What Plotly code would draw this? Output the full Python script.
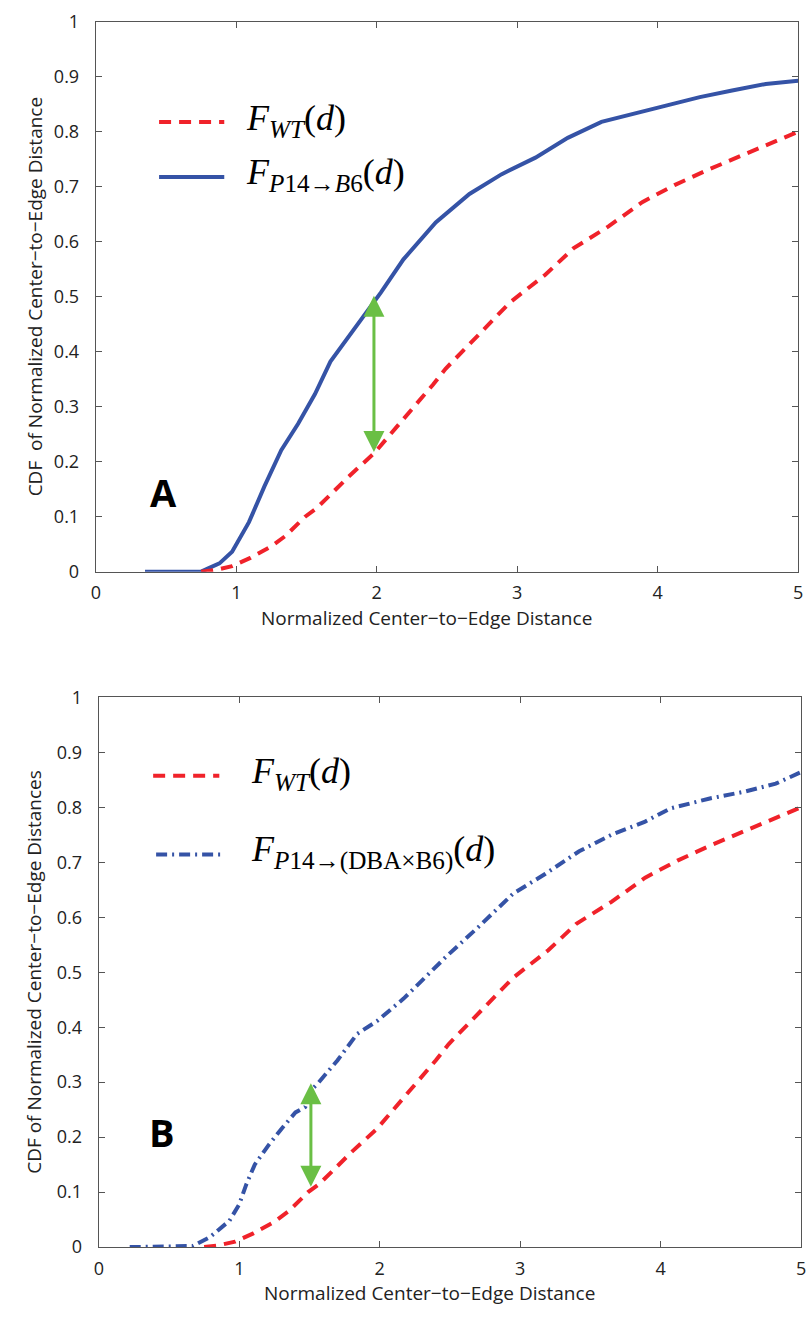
import plotly.graph_objects as go

# ---------------- data ----------------
wt_x = [0.75, 0.85, 0.97, 1.10, 1.25, 1.35, 1.49, 1.57, 1.67, 1.80, 1.98, 2.10, 2.26, 2.40,
        2.49, 2.73, 2.95, 3.20, 3.40, 3.65, 3.89, 4.12, 4.35, 4.59, 4.82, 5.00]
wt_y = [0.0, 0.003, 0.010, 0.025, 0.046, 0.065, 0.100, 0.115, 0.140, 0.173, 0.215, 0.250, 0.298, 0.340,
        0.369, 0.432, 0.490, 0.540, 0.588, 0.628, 0.672, 0.703, 0.730, 0.756, 0.780, 0.800]

b6_x = [0.35, 0.75, 0.80, 0.88, 0.97, 1.09, 1.20, 1.32, 1.44, 1.56, 1.67, 1.79, 1.91, 2.03,
        2.19, 2.42, 2.66, 2.89, 3.13, 3.36, 3.60, 3.83, 4.06, 4.30, 4.53, 4.77, 5.00]
b6_y = [0.0, 0.0, 0.006, 0.015, 0.036, 0.090, 0.155, 0.221, 0.269, 0.323, 0.382, 0.424, 0.466, 0.508,
        0.568, 0.635, 0.687, 0.723, 0.753, 0.789, 0.818, 0.833, 0.848, 0.863, 0.875, 0.887, 0.893]

dba_x = [0.22, 0.67, 0.79, 0.93, 1.00, 1.05, 1.11, 1.21, 1.30, 1.40, 1.47, 1.51, 1.56, 1.70,
         1.84, 1.98, 2.17, 2.24, 2.48, 2.71, 2.95, 3.18, 3.42, 3.65, 3.89, 4.07, 4.35, 4.59, 4.82, 5.00]
dba_y = [0.0, 0.002, 0.018, 0.048, 0.078, 0.114, 0.150, 0.186, 0.215, 0.245, 0.255, 0.285, 0.298, 0.340,
         0.388, 0.411, 0.452, 0.470, 0.530, 0.584, 0.643, 0.679, 0.720, 0.750, 0.774, 0.798, 0.816, 0.828, 0.843, 0.864]

x_ticks = [0, 1, 2, 3, 4, 5]
y_ticks = [0, 0.1, 0.2, 0.3, 0.4, 0.5, 0.6, 0.7, 0.8, 0.9, 1]
y_tick_text = ["0", "0.1", "0.2", "0.3", "0.4", "0.5", "0.6", "0.7", "0.8", "0.9", "1"]

# arrows: (x, y_low, y_high)
arrow_a = (1.98, 0.215, 0.502)
arrow_b = (1.51, 0.107, 0.298)

# ---------------- styling ----------------
RED = "#f0222a"
BLUE = "#3553a6"
GREEN = "#6abf45"
AXC = "#555555"
TXT = "#222222"
SANS = "Open Sans, DejaVu Sans, sans-serif"
SERIF = "Liberation Serif, Times New Roman, serif"
W, H = 811, 1318

DASH = "12px,8px"
DASHDOT = "11px,5px,2px,5px"

fig = go.Figure()
fig.add_trace(go.Scatter(x=b6_x, y=b6_y, mode="lines", xaxis="x", yaxis="y",
                         line=dict(color=BLUE, width=4), showlegend=False))
fig.add_trace(go.Scatter(x=wt_x, y=wt_y, mode="lines", xaxis="x", yaxis="y",
                         line=dict(color=RED, width=4, dash=DASH), showlegend=False))
fig.add_trace(go.Scatter(x=dba_x, y=dba_y, mode="lines", xaxis="x2", yaxis="y2",
                         line=dict(color=BLUE, width=4, dash=DASHDOT), showlegend=False))
fig.add_trace(go.Scatter(x=wt_x, y=wt_y, mode="lines", xaxis="x2", yaxis="y2",
                         line=dict(color=RED, width=4, dash=DASH), showlegend=False))


def px_x(p):
    return p / W


def px_y(p):
    return 1 - p / H


axis_common = dict(showline=True, linecolor=AXC, linewidth=1.2, mirror="ticks", ticks="inside",
                   ticklen=6, tickcolor=AXC, tickwidth=1.2, showgrid=False, zeroline=False,
                   tickfont=dict(family=SANS, size=18, color=TXT))

fig.update_layout(
    width=W, height=H, margin=dict(l=0, r=0, t=0, b=0),
    paper_bgcolor="white", plot_bgcolor="white", showlegend=False,
    xaxis=dict(domain=[px_x(92), px_x(803)], range=[0, 5], tickvals=x_ticks, anchor="y",
               ticklabelstandoff=5, **axis_common),
    yaxis=dict(domain=[px_y(569), px_y(9)], range=[0, 1], tickvals=y_ticks, ticktext=y_tick_text,
               anchor="x", ticklabelstandoff=12, **axis_common),
    xaxis2=dict(domain=[px_x(95), px_x(806)], range=[0, 5], tickvals=x_ticks, anchor="y2",
                ticklabelstandoff=5, **axis_common),
    yaxis2=dict(domain=[px_y(1257), px_y(697)], range=[0, 1], tickvals=y_ticks, ticktext=y_tick_text,
                anchor="x2", ticklabelstandoff=12, **axis_common),
)

ann = []
# axis titles
title_font = dict(family=SANS, size=19, color=TXT)
ann.append(dict(text="CDF\u00a0 of Normalized Center\u2212to\u2212Edge Distance", xref="paper", yref="paper",
                x=px_x(30), y=px_y(289), textangle=-90, showarrow=False, font=title_font,
                xanchor="center", yanchor="middle"))
ann.append(dict(text="Normalized Center\u2212to\u2212Edge Distance", xref="paper", yref="paper",
                x=px_x(427), y=px_y(616), showarrow=False, font=title_font,
                xanchor="center", yanchor="middle"))
ann.append(dict(text="CDF of Normalized Center\u2212to\u2212Edge Distances", xref="paper", yref="paper",
                x=px_x(30), y=px_y(977), textangle=-90, showarrow=False, font=title_font,
                xanchor="center", yanchor="middle"))
ann.append(dict(text="Normalized Center\u2212to\u2212Edge Distance", xref="paper", yref="paper",
                x=px_x(430), y=px_y(1304), showarrow=False, font=title_font,
                xanchor="center", yanchor="middle"))

# panel letters
letter_font = dict(family=SANS, size=38, color="black", weight="bold")
ann.append(dict(text="<b>A</b>", xref="paper", yref="paper", x=px_x(160), y=px_y(488),
                showarrow=False, font=letter_font, xanchor="center", yanchor="middle"))
ann.append(dict(text="<b>B</b>", xref="paper", yref="paper", x=px_x(159), y=px_y(1140),
                showarrow=False, font=letter_font, xanchor="center", yanchor="middle"))

# green double arrows
for (ax_, lo, hi), xr, yr in [(arrow_a, "x", "y"), (arrow_b, "x2", "y2")]:
    ann.append(dict(x=ax_, y=hi, ax=ax_, ay=lo, xref=xr, yref=yr, axref=xr, ayref=yr, text="",
                    showarrow=True, arrowhead=2, arrowside="end+start", arrowsize=1.4,
                    arrowwidth=3, arrowcolor=GREEN, standoff=0, startstandoff=0))

# legends (custom: long line samples + serif math labels)
leg_font = dict(family=SERIF, size=36, color="black")
legend_items = [
    # (y pixel, x0, x1, text x, color, dash, text)
    (111, 156, 222, 242, RED, DASH, "<i>F</i><sub><i>WT</i></sub>(<i>d</i>)"),
    (167, 156, 222, 242, BLUE, "solid", "<i>F</i><sub><i>P</i>14\u2192<i>B</i>6</sub>(<i>d</i>)"),
    (777, 150, 217, 247, RED, DASH, "<i>F</i><sub><i>WT</i></sub>(<i>d</i>)"),
    (857, 153, 220, 247, BLUE, DASHDOT, "<i>F</i><sub><i>P</i>14\u2192(DBA\u00d7B6)</sub>(<i>d</i>)"),
]
shapes = []
for yp, x0, x1, tx, col, dsh, txt in legend_items:
    shapes.append(dict(type="line", xref="paper", yref="paper", x0=px_x(x0), x1=px_x(x1),
                       y0=px_y(yp), y1=px_y(yp), line=dict(color=col, width=4, dash=dsh)))
    ann.append(dict(text=txt, xref="paper", yref="paper", x=px_x(tx), y=px_y(yp - 2),
                    showarrow=False, font=leg_font, xanchor="left", yanchor="middle"))

fig.update_layout(annotations=ann, shapes=shapes)
fig.write_html("out.html")
